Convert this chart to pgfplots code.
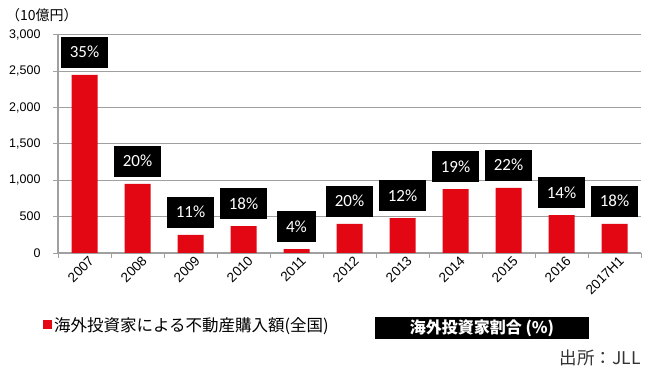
\documentclass[border=0pt]{standalone}
\usepackage{fontspec}
\setmainfont{Liberation Sans}
\newfontfamily\cjk{Noto Sans CJK JP}
\newfontfamily\pct{Carlito}
\usepackage{pgfplots}
\pgfplotsset{compat=1.18}
\definecolor{barred}{HTML}{E30613}
\definecolor{gridgray}{HTML}{A0A0A0}
\begin{document}
\begin{tikzpicture}
\path[use as bounding box] (0,0) rectangle (650bp,366bp);
\begin{axis}[
 at={(58bp,113bp)}, anchor=south west,
 scale only axis, width=583bp, height=218bp,
 xmin=-0.5, xmax=10.5, ymin=0, ymax=3000,
 axis x line*=bottom, axis y line*=left,
 axis line style={gridgray, line width=1.2bp, -},
 tick align=outside,
 major tick length=5bp,
 tick style={gridgray, line width=1bp},
 xtick={-0.5,0.5,...,10.5}, xticklabels={},
 extra x ticks={0,1,...,10},
 extra x tick labels={2007,2008,2009,2010,2011,2012,2013,2014,2015,2016,2017H1},
 extra x tick style={major tick length=0pt, grid=none,
   tick label style={rotate=45, anchor=north east, inner sep=1bp, yshift=-3bp, xshift=2bp,
   font=\fontsize{13.5bp}{15bp}\selectfont}},
 ytick={0,500,...,3000},
 ymajorgrids, grid style={gridgray, line width=1bp},
 yticklabel style={font=\fontsize{12.5bp}{14bp}\selectfont, xshift=-9bp},
 /pgf/number format/.cd, 1000 sep={,}, assume math mode=true,
 /pgfplots/.cd,
 legend style={at={(-0.026,-0.33)}, anchor=west, draw=none, fill=none, inner sep=0pt,
   font=\cjk\fontsize{16.5bp}{18bp}\selectfont},
 legend image code/.code={\fill[barred] (0bp,-4.5bp) rectangle (9bp,4.5bp);},
 legend cell align=left,
]
\addplot[ybar, bar width=26bp, fill=barred, draw=none,
  point meta=explicit symbolic,
  nodes near coords={\pct\fontsize{17bp}{20bp}\selectfont\pgfplotspointmeta\%},
  every node near coord/.append style={fill=black, text=white, inner xsep=9bp,
    inner ysep=0pt, minimum height=31bp, anchor=south, yshift=7bp}]
coordinates {
(0,2450) [35]
(1,950) [20]
(2,250) [11]
(3,370) [18]
(4,55) [4]
(5,400) [20]
(6,480) [12]
(7,880) [19]
(8,895) [22]
(9,520) [14]
(10,400) [18]
};
\addlegendentry{海外投資家による不動産購入額(全国)}
\end{axis}
\node[anchor=west, inner sep=0pt, font=\cjk\fontsize{14bp}{16bp}\selectfont] at (6bp,351bp) {（10億円）};
\node[fill=black, text=white, minimum width=214bp, minimum height=22bp, inner sep=0pt,
  font=\cjk\bfseries\fontsize{16bp}{18bp}\selectfont] at (482bp,38bp) {海外投資家割合 (\%)};
\node[anchor=east, inner sep=0pt, text=black!80, font=\cjk\fontsize{17.5bp}{19bp}\selectfont] at (641bp,8bp) {出所：JLL};
\end{tikzpicture}
\end{document}
